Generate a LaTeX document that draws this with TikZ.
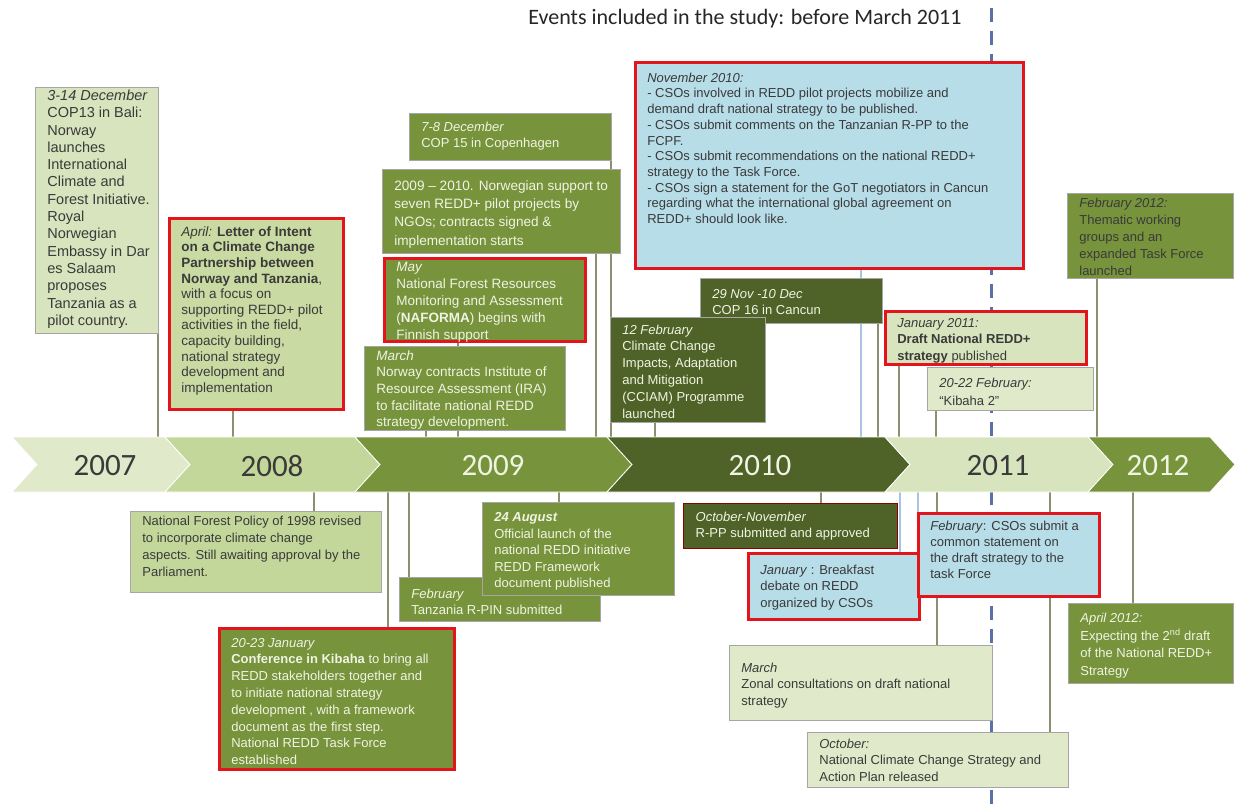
\documentclass[tikz,border=0pt]{standalone}
\usepackage{fontspec}
\setmainfont{Liberation Sans}
\newfontfamily\yearfont{Carlito}
\usetikzlibrary{backgrounds}

\definecolor{vlgreen}{HTML}{E0E9C9}
\definecolor{lgreen}{HTML}{D7E4BD}
\definecolor{pgreen}{HTML}{C4D79B}
\definecolor{mgreen}{HTML}{77933C}
\definecolor{dgreen}{HTML}{4F6228}
\definecolor{lblue}{HTML}{B7DDE8}
\definecolor{redc}{HTML}{E3141B}
\definecolor{boxgray}{HTML}{A6A6A6}
\definecolor{conngray}{HTML}{8C9070}
\definecolor{connblue}{HTML}{A9C2E6}
\definecolor{dashblue}{HTML}{5B6FA8}
\definecolor{txtdark}{HTML}{3A3A3A}
\definecolor{txtlight}{HTML}{F0F4E2}

% box text: width, height, lines
\newcommand{\evt}[3]{\parbox[c][#2pt][t]{#1pt}{\raggedright\leftskip=10pt\strut#3}}

\begin{document}
\begin{tikzpicture}[x=1pt,y=-1pt,
  ev/.style={anchor=north west,inner xsep=2pt,inner ysep=7pt,draw=boxgray,line width=0.7pt,font=\fontsize{13}{16.7}\selectfont},
  lightev/.style={ev,fill=lgreen,text=txtdark},
  medev/.style={ev,fill=mgreen,text=txtlight},
  darkev/.style={ev,fill=dgreen,text=txtlight},
  blueev/.style={ev,fill=lblue,text=txtdark},
  redline/.style={draw=redc,line width=2.6pt},
  conn/.style={conngray,line width=1.6pt},
  bconn/.style={connblue,line width=1.6pt},
  yearlbl/.style={font=\yearfont\fontsize{31}{31}\selectfont},
]
\useasboundingbox (0,0) rectangle (1238,807);

% title
\node[font=\yearfont\fontsize{22}{26}\selectfont,text=black!85] (title) at (745,19) {Events included in the study: before March 2011};

% timeline band
\foreach \a/\b/\c in {12/165/vlgreen,165/355/pgreen,355/607/mgreen,607/885/dgreen,885/1088/lgreen,1088/1210/mgreen}
  \fill[\c,draw=white,line width=0.8pt] (\a,437) -- (\b,437) -- (\b+25,464.5) -- (\b,492) -- (\a,492) -- (\a+25,464.5) -- cycle;
\foreach \yr/\x/\c in {2007/105/txtdark,2008/272/txtdark,2009/493/txtlight,2010/760/txtlight,2011/998/txtdark,2012/1158/txtlight}
  \node[yearlbl,text=\c] (y\yr) at (\x,466) {\yr};

% events above the band
\node[lightev,inner ysep=1pt,font=\fontsize{14.5}{17.3}\selectfont] (bali) at (35,87) {\evt{119}{244}{\textit{3-14 December}\\COP13 in Bali:\\Norway\\launches\\International\\Climate and\\Forest Initiative.\\Royal\\Norwegian\\Embassy in Dar\\es Salaam\\proposes\\Tanzania as a\\pilot country.}};
\node[lightev,redline,fill=pgreen!75!lgreen,font=\fontsize{13.5}{15.6}\selectfont] (april) at (168,217) {\evt{170}{177}{\textit{April:} \textbf{Letter of Intent}\\\textbf{on a Climate Change}\\\textbf{Partnership between}\\\textbf{Norway and Tanzania},\\with a focus on\\supporting REDD+ pilot\\activities in the field,\\capacity building,\\national strategy\\development and\\implementation}};
\node[medev,inner ysep=6pt] (cop15) at (409,113) {\evt{198}{35}{\textit{7-8 December}\\COP 15 in Copenhagen}};
\node[medev,inner ysep=8pt,font=\fontsize{13.6}{18.3}\selectfont] (np) at (382,169) {\evt{234}{68}{2009 -- 2010. Norwegian support to\\seven REDD+ pilot projects by\\NGOs; contracts signed \&\\implementation starts}};
\node[medev,redline,inner ysep=1pt,font=\fontsize{13.5}{17}\selectfont] (naforma) at (383,257) {\evt{197}{81}{\textit{May}\\National Forest Resources\\Monitoring and Assessment\\(\textbf{NAFORMA}) begins with\\Finnish support}};
\node[medev,inner ysep=2pt,font=\fontsize{13.5}{16.7}\selectfont] (march09) at (364,346) {\evt{197}{80}{\textit{March}\\Norway contracts Institute of\\Resource Assessment (IRA)\\to facilitate national REDD\\strategy development.}};
\node[blueev,redline,inner ysep=9pt,font=\fontsize{13}{15.7}\selectfont] (nov) at (634,61) {\evt{384}{188}{\textit{November 2010:}\\- CSOs involved in REDD pilot projects mobilize and\\demand draft national strategy to be published.\\- CSOs submit comments on the Tanzanian R-PP to the\\FCPF.\\- CSOs submit recommendations on the national REDD+\\strategy to the Task Force.\\- CSOs sign a statement for the GoT negotiators in Cancun\\regarding what the international global agreement on\\REDD+ should look like.}};
\node[darkev,inner ysep=8pt] (cop16) at (700,278) {\evt{178}{29}{\textit{29 Nov -10 Dec}\\COP 16 in Cancun}};
\node[darkev,inner ysep=5pt,font=\fontsize{13}{16.8}\selectfont] (feb12) at (610,317) {\evt{151}{95}{\textit{12 February}\\Climate Change\\Impacts, Adaptation\\and Mitigation\\(CCIAM) Programme\\launched}};
\node[lightev,redline,inner ysep=5pt,font=\fontsize{13}{16.2}\selectfont] (jan11) at (884,310) {\evt{197}{43}{\textit{January 2011:}\\\textbf{Draft National REDD+}\\\textbf{strategy} published}};
\node[lightev,fill=vlgreen,inner ysep=8pt,font=\fontsize{13}{17.7}\selectfont] (kib2) at (927,367) {\evt{162}{27}{\textit{20-22 February:}\\``Kibaha 2''}};
\node[medev,text=txtdark,inner ysep=2pt,font=\fontsize{13}{17.1}\selectfont] (feb2012) at (1067,193) {\evt{162}{81}{\textit{February 2012:}\\Thematic working\\groups and  an\\expanded Task Force\\launched}};

% events below the band
\node[lightev,fill=pgreen,inner ysep=2pt,font=\fontsize{13}{17}\selectfont] (nfp) at (130,511) {\evt{247}{77}{National Forest Policy of 1998 revised\\to incorporate climate change\\aspects. Still awaiting approval by the\\Parliament.}};
\node[medev,inner ysep=9pt] (rpin) at (399,577) {\evt{197}{26}{\textit{February}\\Tanzania R-PIN submitted}};
\node[medev,inner ysep=8pt,font=\fontsize{13}{16.5}\selectfont] (aug24) at (482,502) {\evt{188}{77}{\textbf{\textit{24 August}}\\Official launch of the\\national REDD initiative\\REDD Framework\\document published}};
\node[medev,redline,inner ysep=7pt,font=\fontsize{13}{16.8}\selectfont] (kibconf) at (218,627) {\evt{231}{127}{\textit{20-23 January}\\\textbf{Conference in Kibaha} to bring all\\REDD stakeholders together and\\to initiate national strategy\\development , with a framework\\document as the first step.\\National REDD Task Force\\established}};
\node[darkev,draw=red!55!black,line width=1.4pt,inner ysep=7pt,font=\fontsize{13}{16}\selectfont] (octnov) at (683,503) {\evt{210}{31}{\textit{October-November}\\R-PP submitted and approved}};
\node[blueev,redline,inner ysep=9pt] (janbf) at (747,552) {\evt{167}{48}{\textit{January} : Breakfast\\debate on REDD\\organized by CSOs}};
\node[blueev,redline,inner ysep=6pt,font=\fontsize{13}{16}\selectfont] (febcso) at (917,512) {\evt{177}{71}{\textit{February}: CSOs submit a\\common statement on\\the draft strategy to the\\task Force}};
\node[medev,inner ysep=7pt,font=\fontsize{13}{17.5}\selectfont] (apr12) at (1068,603) {\evt{161}{66}{\textit{April 2012:}\\Expecting the 2\textsuperscript{nd} draft\\of the National REDD+\\Strategy}};
\node[lightev,fill=vlgreen,inner ysep=15pt] (mar11) at (729,645) {\evt{259}{45}{\textit{March}\\Zonal consultations on draft national\\strategy}};
\node[lightev,fill=vlgreen,inner ysep=4pt] (oct11) at (807,732) {\evt{257}{47}{\textit{October:}\\National Climate Change Strategy and\\Action Plan released}};

% cut-off line and connectors, behind everything
\begin{pgfonlayer}{background}
\fill[white] (0,0) rectangle (1238,807);
\coordinate (cuttop) at (991,8);
\coordinate (cutbot) at (991,807);
\draw[dashblue,line width=3pt,dash pattern=on 14pt off 9pt] (cuttop) -- (cutbot);
\foreach \x/\n in {158/bali,233/april,426/march09,458/naforma,596/np,611/cop15,655/feb12,878/cop16,899/jan11,936/kib2,1097/feb2012}
  \draw[conn] (\x,0 |- \n.south) -- (\x,437);
\draw[bconn] (861,0 |- nov.south) -- (861,437);
\draw[conn] (458,0 |- naforma.south) -- (458,0 |- march09.north);
\foreach \x/\n in {314/nfp,388/kibconf,409/rpin,559/aug24,821/octnov,937/mar11,1050/oct11,1133/apr12}
  \draw[conn] (\x,492) -- (\x,0 |- \n.north);
\draw[bconn] (900,492) -- (900,0 |- janbf.north);
\draw[bconn] (918,492) -- (918,0 |- febcso.north);
\end{pgfonlayer}
\end{tikzpicture}
\end{document}
